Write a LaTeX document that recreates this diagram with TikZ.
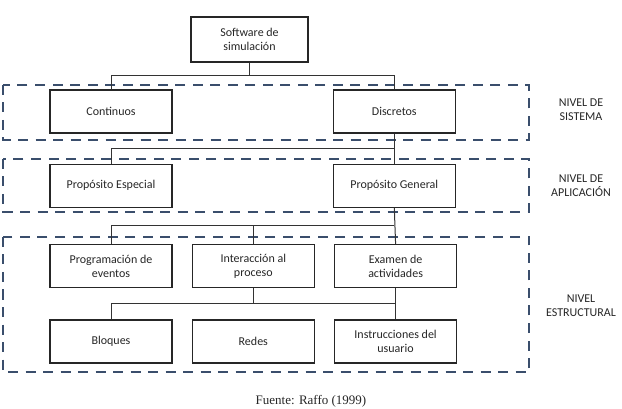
\documentclass[tikz,border=0pt]{standalone}
\usepackage{fontspec}
\setmainfont{Carlito}
\newfontfamily\fuentefont{Liberation Serif}
\usepackage{xcolor}
\usepackage{tikz}
\usetikzlibrary{positioning,calc}

\definecolor{nivelblue}{RGB}{58,78,108}

\begin{document}
\begin{tikzpicture}[
    x=1pt, y=-1pt,
    box/.style={rectangle, draw=black!85, line width=1.3pt, minimum width=122pt, minimum height=43pt, text centered, align=center, inner sep=2pt, font=\fontsize{12}{14}\selectfont, text=black!85},
    link/.style={draw=black!80, line width=1pt},
    nivel/.style={draw=nivelblue, line width=2.3pt, dash pattern=on 10pt off 7.5pt},
    nivellabel/.style={align=center, font=\fontsize{12}{14}\selectfont, text=black!85}
]
    \useasboundingbox (0,0) rectangle (622,409);

    % niveles
    \draw[nivel] (3,85) rectangle (529,140);
    \draw[nivel] (3,159) rectangle (529,212);
    \draw[nivel] (3,237) rectangle (529,372);

    \node[box, minimum width=117pt, minimum height=45pt] (soft) at (249.5,39.5) {Software de\\simulación};
    \node[box] (cont) at (111,111.5) {Continuos};
    \node[box, right=160pt of cont] (disc) {Discretos};
    \node[box, below=30pt of cont] (pesp) {Propósito Especial};
    \node[box, below=30pt of disc] (pgen) {Propósito General};
    \node[box, below=36pt of pesp] (prog) {Programación de\\eventos};
    \node[box, right=19pt of prog] (inter) {Interacción al\\proceso};
    \node[box, right=19pt of inter] (exam) {Examen de\\actividades};
    \node[box, below=31pt of prog] (bloq) {Bloques};
    \node[box, below=31pt of inter] (redes) {Redes};
    \node[box, below=31pt of exam] (instr) {Instrucciones del\\usuario};

    % uniones
    \coordinate (j1) at ([yshift=-13pt]soft.south);
    \coordinate (j2) at ([yshift=-15pt]disc.south);
    \coordinate (j3) at ([yshift=-18pt]pgen.south);
    \coordinate (j4) at ([yshift=-15pt]inter.south);

    \draw[link] (soft.south) -- (j1) -| (cont.north);
    \draw[link] (j1) -| (disc.north);
    \draw[link] (disc.south) -- (pgen.north);
    \draw[link] (j2) -| (pesp.north);
    \draw[link] (pgen.south) -- (exam.north);
    \draw[link] (j3) -| (prog.north);
    \draw[link] (j3 -| inter.north) -- (inter.north);
    \draw[link] (inter.south) -- (j4) -| (bloq.north);
    \draw[link] (j4) -- (j4 -| instr.north);
    \draw[link] (exam.south) -- (instr.north);

    \node[nivellabel] (lsis) at (581,110) {NIVEL DE\\SISTEMA};
    \node[nivellabel] (lapl) at (581,185.5) {NIVEL DE\\APLICACIÓN};
    \node[nivellabel] (lest) at (581,305.5) {NIVEL\\ESTRUCTURAL};

    \node[anchor=base, font=\fuentefont\fontsize{13}{15}\selectfont, text=black!85] (fuente) at (311,404.5) {Fuente: Raffo (1999)};
\end{tikzpicture}
\end{document}
